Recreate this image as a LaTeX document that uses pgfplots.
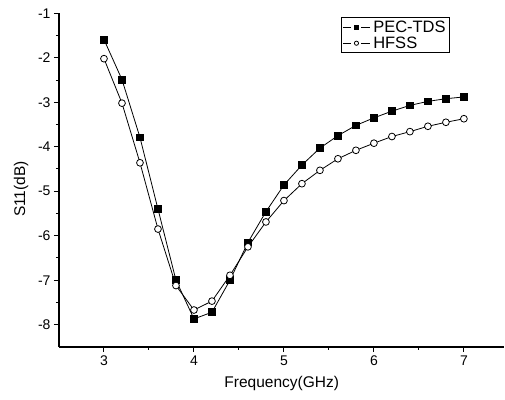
\documentclass[border=0pt]{standalone}
\usepackage{pgfplots}
\pgfplotsset{compat=1.18}
\usepackage{fontspec}
\setmainfont{Liberation Sans}
\begin{document}
\begin{tikzpicture}
\begin{axis}[
  scale only axis, width=445.5pt, height=333.7pt,
  xmin=2.5, xmax=7.45, ymin=-8.5, ymax=-1,
  axis lines*=left,
  xtick={3,4,5,6,7}, ytick={-8,-7,-6,-5,-4,-3,-2,-1},
  minor x tick num=1, minor y tick num=1,
  tick align=outside, major tick length=5pt, minor tick length=3pt,
  tick style={line width=1pt, black},
  axis line style={line width=1.2pt},
  /pgf/number format/assume math mode=true,
  ticklabel style={font=\fontsize{14}{16}\selectfont},
  xlabel={Frequency(GHz)}, ylabel={S11(dB)},
  label style={font=\fontsize{15.5}{18}\selectfont},
  xlabel style={at={(axis description cs:0.5,0)}, anchor=base, yshift=-40.3pt},
  ylabel style={at={(axis description cs:-0.0853,0.473)}, anchor=center},
  legend style={draw=black, line width=0.8pt, at={(0.878,0.988)}, anchor=north east,
    font=\fontsize{16.5}{16.5}\selectfont, inner sep=1pt, row sep=-1pt,
    nodes={inner xsep=3pt}},
  legend cell align=left,
  legend image code/.code={
    \draw[#1, mark=none, line width=0.6pt] (0pt,0pt) -- (8.5pt,0pt) (18.5pt,0pt) -- (27pt,0pt);
    \draw[#1, mark size=2.1pt] plot[only marks] coordinates {(13.5pt,0pt)};},
]
\coordinate (sw) at (rel axis cs:0,0);
\coordinate (ne) at (rel axis cs:1,1);
\addplot[black, line width=0.8pt, mark=square*, mark size=3.4pt, mark options={solid}] coordinates {
(3.0,-1.59) (3.2,-2.49) (3.4,-3.79) (3.6,-5.40) (3.8,-7.00) (4.0,-7.87) (4.2,-7.72)
(4.4,-7.00) (4.6,-6.15) (4.8,-5.46) (5.0,-4.86) (5.2,-4.41) (5.4,-4.03) (5.6,-3.75)
(5.8,-3.52) (6.0,-3.35) (6.2,-3.20) (6.4,-3.07) (6.6,-2.98) (6.8,-2.92) (7.0,-2.88)};
\addlegendentry{PEC-TDS}
\addplot[black, line width=0.8pt, mark=*, mark size=3.4pt, mark options={fill=white, solid}] coordinates {
(3.0,-2.02) (3.2,-3.02) (3.4,-4.36) (3.6,-5.85) (3.8,-7.12) (4.0,-7.67) (4.2,-7.47)
(4.4,-6.89) (4.6,-6.25) (4.8,-5.69) (5.0,-5.21) (5.2,-4.83) (5.4,-4.53) (5.6,-4.27)
(5.8,-4.08) (6.0,-3.92) (6.2,-3.77) (6.4,-3.66) (6.6,-3.54) (6.8,-3.45) (7.0,-3.37)};
\addlegendentry{HFSS}
\end{axis}
\path ([shift={(-59pt,-52.3pt)}]sw) rectangle ([shift={(0pt,13.3pt)}]ne);
\end{tikzpicture}
\end{document}
